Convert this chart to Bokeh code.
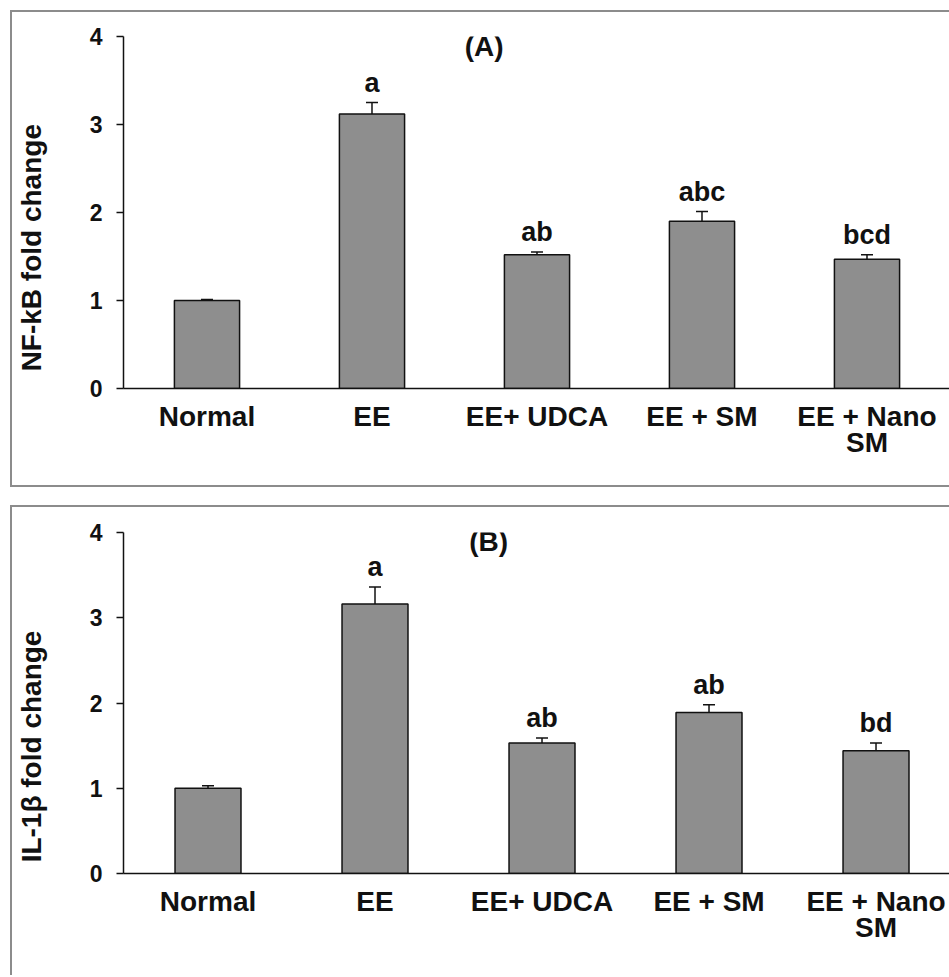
import math
from bokeh.plotting import figure
from bokeh.models import ColumnDataSource, FixedTicker, Range1d, Whisker, TeeHead, LabelSet, Label
from bokeh.layouts import column, row
from bokeh.core.properties import value
from bokeh.embed import file_html
from bokeh.resources import INLINE

groups = ["Normal", "EE", "EE+ UDCA", "EE + SM", "EE + Nano\nSM"]
y_ticks = [0, 1, 2, 3, 4]

nfkb_mean = [1.00, 3.12, 1.52, 1.90, 1.47]
nfkb_sem = [0.01, 0.13, 0.03, 0.11, 0.05]
nfkb_letters = ["", "a", "ab", "abc", "bcd"]

il1b_mean = [1.00, 3.16, 1.53, 1.89, 1.44]
il1b_sem = [0.03, 0.20, 0.06, 0.09, 0.09]
il1b_letters = ["", "a", "ab", "ab", "bd"]

FONT = "Liberation Sans"
INK = "#111111"
BOX = "#8c8c8c"
LAB_W = 40


def make_panel(mean, sem, letters, ylab, tag, x_start, x_end, height, b_top, b_bottom,
               ylab_y, margin, shadow):
    src = ColumnDataSource(dict(
        x=list(range(len(groups))),
        top=mean,
        upper=[m + s for m, s in zip(mean, sem)],
        letter=letters,
    ))
    yr = Range1d(0, 4)
    p = figure(width=939 - LAB_W, height=height, x_range=Range1d(x_start, x_end), y_range=yr,
               output_backend="svg", toolbar_location=None,
               min_border_left=113 - LAB_W, min_border_right=0, min_border_top=b_top,
               min_border_bottom=b_bottom)
    p.border_fill_color = None
    p.background_fill_color = None
    p.outline_line_color = None
    p.grid.visible = False

    p.vbar(x="x", top="top", width=0.395, source=src, fill_color="#8e8e8e",
           line_color=INK, line_width=1.5)
    p.add_layout(Whisker(base="x", lower="top", upper="upper", source=src,
                         lower_head=None,
                         upper_head=TeeHead(size=12, line_width=1.5, line_color=INK),
                         line_width=1.5, line_color=INK))
    p.add_layout(LabelSet(x="x", y="upper", text="letter", source=src, y_offset=11,
                          text_align="center", text_baseline="alphabetic",
                          text_font=value(FONT), text_font_style="bold",
                          text_font_size="27px", text_color=INK))
    p.add_layout(Label(x=1.68, y=3.89, text=tag, text_align="center", text_baseline="middle",
                       text_font=FONT, text_font_style="bold", text_font_size="28px",
                       text_color=INK))

    xax = p.xaxis[0]
    xax.ticker = FixedTicker(ticks=list(range(len(groups))))
    xax.major_label_overrides = {i: g for i, g in enumerate(groups)}
    xax.major_tick_line_color = None
    xax.minor_tick_line_color = None
    xax.axis_line_width = 1.5
    xax.axis_line_color = INK
    xax.major_label_standoff = 6
    xax.major_label_text_font = FONT
    xax.major_label_text_font_style = "bold"
    xax.major_label_text_font_size = "28px"
    xax.major_label_text_line_height = 0.87
    xax.major_label_text_color = INK

    yax = p.yaxis[0]
    yax.ticker = FixedTicker(ticks=y_ticks)
    yax.major_tick_out = 7
    yax.major_tick_in = 0
    yax.minor_tick_line_color = None
    yax.major_tick_line_width = 1.5
    yax.major_tick_line_color = INK
    yax.axis_line_width = 1.5
    yax.axis_line_color = INK
    yax.major_label_standoff = 14
    yax.major_label_text_font = FONT
    yax.major_label_text_font_style = "bold"
    yax.major_label_text_font_size = "23px"
    yax.major_label_text_color = INK

    # narrow strip carrying the y-axis title, sharing the panel's value scale
    lab = figure(width=LAB_W, height=height, x_range=Range1d(0, 1), y_range=yr,
                 output_backend="svg", toolbar_location=None,
                 x_axis_type=None, y_axis_type=None,
                 min_border_left=0, min_border_right=0, min_border_top=b_top,
                 min_border_bottom=b_bottom)
    lab.border_fill_color = None
    lab.background_fill_color = None
    lab.outline_line_color = None
    lab.grid.visible = False
    lab.text(x=[0.53], y=[ylab_y], text=[ylab], angle=math.pi / 2,
             text_align="center", text_baseline="middle",
             text_font=value(FONT), text_font_style="bold", text_font_size="28px",
             text_color=INK)

    return row(lab, p, spacing=0, margin=margin, styles={"box-shadow": shadow})


pa = make_panel(nfkb_mean, nfkb_sem, nfkb_letters, "NF-kB fold change", "(A)",
                -0.506, 4.5, 477, 26, 99, 1.6, (10, 0, 0, 10),
                f"inset 2px 0 0 0 {BOX}, inset 0 2px 0 0 {BOX}, inset 0 -2px 0 0 {BOX}")
pb = make_panel(il1b_mean, il1b_sem, il1b_letters, "IL-1\u03b2 fold change", "(B)",
                -0.506, 4.44, 470, 27, 102, 1.49, (18, 0, 0, 10),
                f"inset 2px 0 0 0 {BOX}, inset 0 2px 0 0 {BOX}")

layout = column(pa, pb, spacing=0)
open("out.html", "w").write(file_html(layout, INLINE))
